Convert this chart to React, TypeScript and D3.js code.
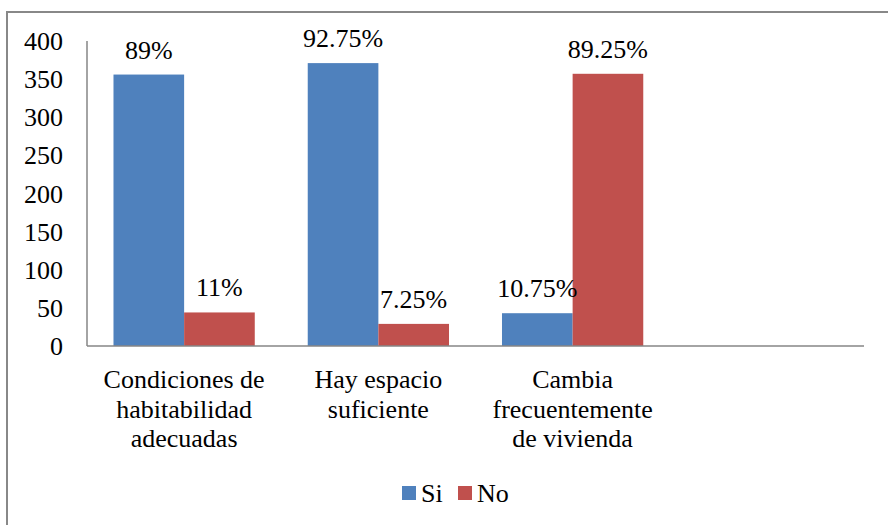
import React from "react";
import * as d3 from "d3";

const categories: string[][] = [
  ["Condiciones de", "habitabilidad", "adecuadas"],
  ["Hay espacio", "suficiente"],
  ["Cambia", "frecuentemente", "de vivienda"],
  [],
];
const seriesNames = ["Si", "No"];
const siValues = [356, 371, 43];
const noValues = [44, 29, 357];
const siLabels = ["89%", "92.75%", "10.75%"];
const noLabels = ["11%", "7.25%", "89.25%"];
const yTicks = [0, 50, 100, 150, 200, 250, 300, 350, 400];
const colors = ["#4F81BD", "#C0504D"];

const W = 888;
const H = 525;
const plot = { left: 87, right: 864, top: 41, bottom: 346 };
const font = "Liberation Serif";

export default function App() {
  const x = d3
    .scaleBand<number>()
    .domain(d3.range(categories.length))
    .range([plot.left, plot.right])
    .paddingInner(0.2728)
    .paddingOuter(0.1364);
  const band = (plot.right - plot.left) / categories.length;
  const barW = band / (2 + 0.75);
  const gap = band - 2 * barW;
  const y = d3.scaleLinear().domain([0, 400]).range([plot.bottom, plot.top]);
  const series = [siValues, noValues];
  const labels = [siLabels, noLabels];
  const bandStart = (i: number) => plot.left + i * band;
  const ts: React.CSSProperties = { fontFamily: font, fontSize: 26 };

  return (
    <div style={{ position: "absolute", left: 0, top: 0 }}>
      <svg width={W} height={H}>
        <rect x={7} y={12} width={920} height={540} fill="#fff" stroke="#888" strokeWidth={2} />
        {series.map((vals, s) =>
          vals.map((v, i) => {
            const bx = bandStart(i) + gap / 2 + s * barW;
            return (
              <rect
                key={`b${s}-${i}`}
                x={bx}
                y={y(v)}
                width={barW}
                height={y(0) - y(v)}
                fill={colors[s]}
              />
            );
          })
        )}
        {series.map((vals, s) =>
          vals.map((v, i) => {
            const cx = bandStart(i) + gap / 2 + s * barW + barW / 2;
            return (
              <text key={`l${s}-${i}`} x={cx} y={y(v) - 16} textAnchor="middle" style={ts}>
                {labels[s][i]}
              </text>
            );
          })
        )}
        <line x1={plot.left} x2={plot.left} y1={plot.top} y2={plot.bottom} stroke="#868686" strokeWidth={1.5} />
        <line x1={plot.left} x2={plot.right} y1={plot.bottom} y2={plot.bottom} stroke="#868686" strokeWidth={1.5} />
        {yTicks.map((t) => (
          <text key={`t${t}`} x={63} y={y(t) + 9} textAnchor="end" style={ts}>
            {t}
          </text>
        ))}
        {categories.map((lines, i) =>
          lines.map((ln, j) => (
            <text
              key={`c${i}-${j}`}
              x={(x(i) ?? 0) + x.bandwidth() / 2}
              y={388 + j * 29.5}
              textAnchor="middle"
              style={ts}
            >
              {ln}
            </text>
          ))
        )}
        {seriesNames.map((n, s) => {
          const lx = [402, 458][s];
          return (
            <g key={`lg${s}`}>
              <rect x={lx} y={486} width={14} height={14} fill={colors[s]} />
              <text x={lx + 19} y={502} style={ts}>
                {n}
              </text>
            </g>
          );
        })}
      </svg>
    </div>
  );
}
